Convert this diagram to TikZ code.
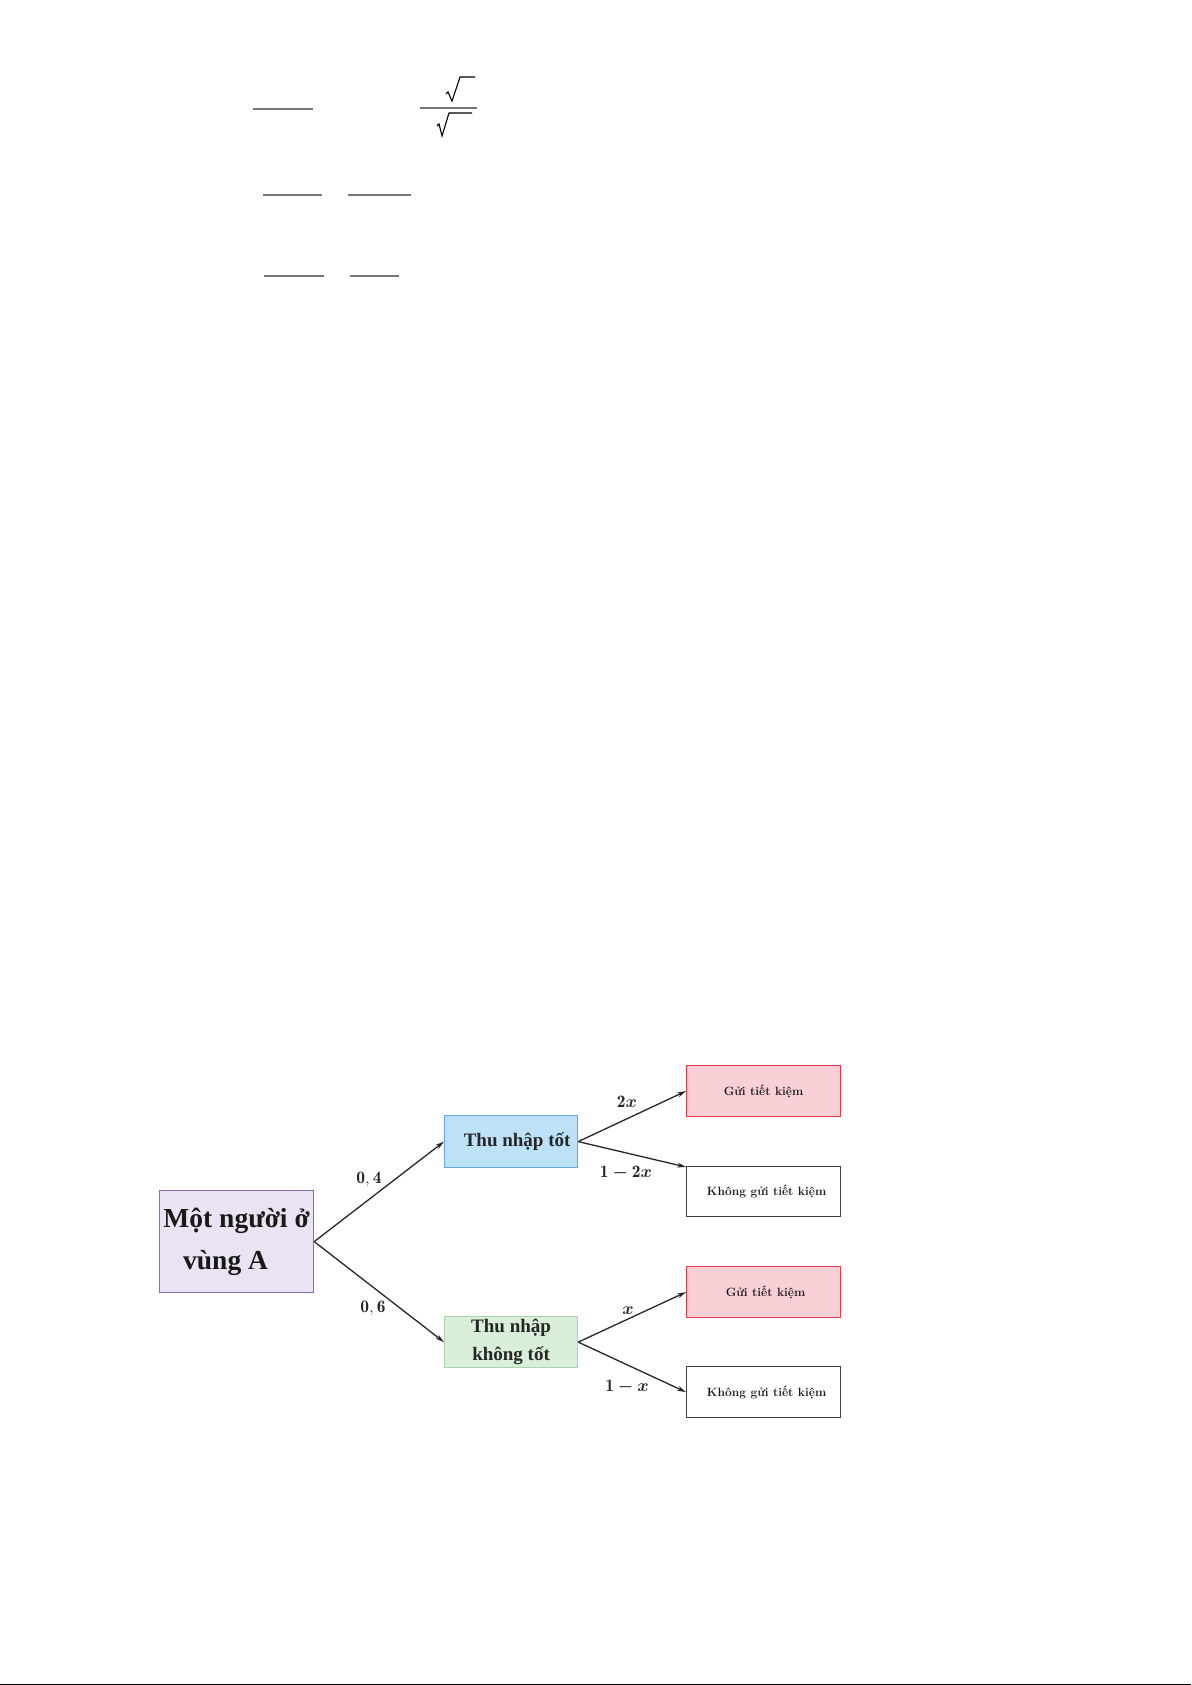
\documentclass[tikz,border=0pt]{standalone}
\usepackage{amsmath}
\usepackage{fontspec}
\newfontfamily\timesb[BoldFont={Liberation Serif Bold}]{Liberation Serif}
\usetikzlibrary{arrows.meta}
\definecolor{purfill}{HTML}{EBE3F3}
\definecolor{purdraw}{HTML}{8A6CAA}
\definecolor{bluefill}{HTML}{BDE2F8}
\definecolor{bluedraw}{HTML}{62A8E0}
\definecolor{grnfill}{HTML}{DAEFDA}
\definecolor{grndraw}{HTML}{A8D6A8}
\definecolor{redfill}{HTML}{F8D0D5}
\definecolor{reddraw}{HTML}{E03A4C}
\definecolor{fracgray}{HTML}{777777}
\tikzset{
  box/.style={draw, line width=1.2pt, inner sep=0pt, anchor=north west},
  arr/.style={-{Stealth[length=9pt,width=5pt]}, line width=1.3pt, black!85},
  plbl/.style={font=\fontsize{17.5}{19}\selectfont, text=black!85},
  smalltxt/.style={font=\bfseries\fontsize{12}{14}\selectfont, text=black!90},
  fline/.style={draw=fracgray, line width=1.5pt},
  sqr/.style={draw=black, line width=1.1pt, line join=miter}
}
\begin{document}
\begin{tikzpicture}[x=1pt,y=-1pt]
\useasboundingbox (0,0) rectangle (1191,1685);
% fraction bars at top
\draw[fline] (253,109) -- (313,109);
\draw[fline] (420,108) -- (477,108);
\draw[fline] (263,195) -- (322,195);
\draw[fline] (348,195) -- (411,195);
\draw[fline] (264,276) -- (324,276);
\draw[fline] (350,276) -- (399,276);
% square root signs
\draw[sqr] (446,94) -- (448,92) -- (452,101) -- (460,77) -- (475,77);
\draw[sqr] (437,126) -- (439,124) -- (442,136) -- (449,113) -- (472,113);
% tree nodes
\node[box, fill=purfill, draw=purdraw, minimum width=154pt, minimum height=102pt,
  align=center, font=\timesb\bfseries\fontsize{27.5}{42}\selectfont, text=black!90]
  (root) at (159,1190) {Một người ở\\vùng A\hspace*{22pt}};
\node[box, fill=bluefill, draw=bluedraw, minimum width=133pt, minimum height=52pt,
  font=\timesb\bfseries\fontsize{19}{28}\selectfont, text=black!85]
  (good) at (444,1115) {\hspace*{12pt}Thu nhập tốt};
\node[box, fill=grnfill, draw=grndraw, minimum width=133pt, minimum height=51pt,
  align=center, font=\timesb\bfseries\fontsize{19}{28}\selectfont, text=black!85]
  (bad) at (444,1316) {Thu nhập\\không tốt};
\node[box, smalltxt, fill=redfill, draw=reddraw, minimum width=154pt, minimum height=51pt]
  (s1) at (686,1065) {Gửi tiết kiệm};
\node[box, smalltxt, draw=black!75, fill=white, minimum width=154pt, minimum height=50pt]
  (n1) at (686,1166) {\hspace*{6pt}Không gửi tiết kiệm};
\node[box, smalltxt, fill=redfill, draw=reddraw, minimum width=154pt, minimum height=51pt]
  (s2) at (686,1266) {\hspace*{4pt}Gửi tiết kiệm};
\node[box, smalltxt, draw=black!75, fill=white, minimum width=154pt, minimum height=51pt]
  (n2) at (686,1366) {\hspace*{6pt}Không gửi tiết kiệm};
% connectors
\draw[arr] (root.east) -- (good.west);
\draw[arr] (root.east) -- (bad.west);
\draw[arr] (good.east) -- (s1.west);
\draw[arr] (good.east) -- ([yshift=-1pt]n1.north west);
\draw[arr] (bad.east) -- (s2.west);
\draw[arr] (bad.east) -- (n2.west);
% labels
\node[plbl] (l04) at (369,1179) {$\mathbf{0,4}$};
\node[plbl] (l06) at (373,1308) {$\mathbf{0,6}$};
\node[plbl] (l2x) at (627,1102) {$\mathbf{2}\boldsymbol{x}$};
\node[plbl] (l12x) at (626,1173) {$\mathbf{1}\boldsymbol{-}\mathbf{2}\boldsymbol{x}$};
\node[plbl] (lx) at (628,1311) {$\boldsymbol{x}$};
\node[plbl] (l1x) at (627,1387) {$\mathbf{1}\boldsymbol{-}\boldsymbol{x}$};
% bottom edge line
\draw[black, line width=1.2pt] (0,1684.4) -- (1191,1684.4);
\end{tikzpicture}
\end{document}
